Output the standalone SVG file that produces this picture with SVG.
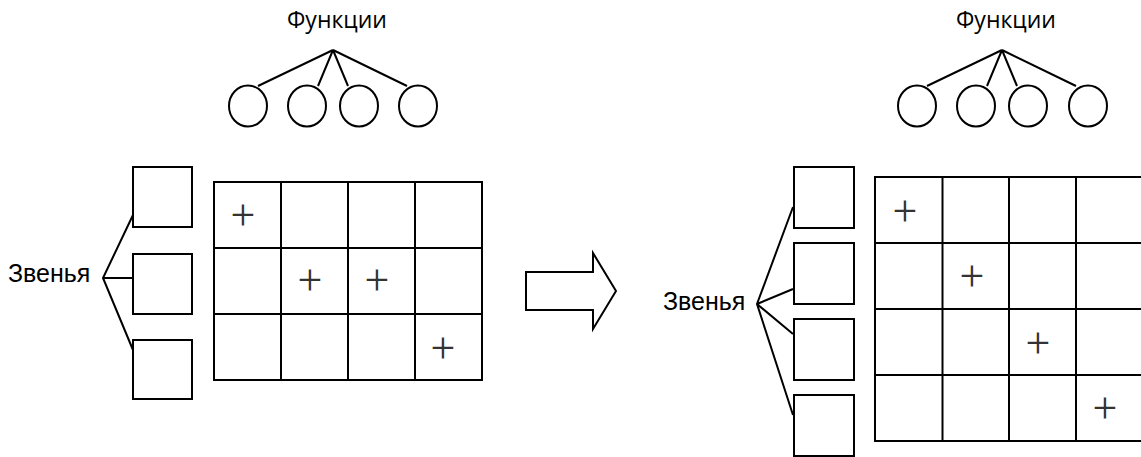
<svg xmlns="http://www.w3.org/2000/svg" width="1141" height="457" viewBox="0 0 1141 457">
<style>
.ln{stroke:#000;stroke-width:2;fill:none}
.box{stroke:#000;stroke-width:2;fill:#fff}
.circ{stroke:#000;stroke-width:2;fill:#fff}
.fn{font-family:"Open Sans","Noto Sans",sans-serif;font-size:23px;fill:#000;text-anchor:middle}
.zv{font-family:"Liberation Sans",Arial,sans-serif;font-size:25px;fill:#000}
.pl{font-family:"Liberation Serif","Times New Roman",serif;font-size:44px;fill:#333;text-anchor:middle}
</style>
<rect width="1141" height="457" fill="#fff"/>
<g id="connectors">
<path class="ln" d="M333,50 L258,86 M333,50 L318,86 M333,50 L348,86 M333,50 L407,86"/>
<path class="ln" d="M1002,50 L927,86 M1002,50 L987,86 M1002,50 L1017,86 M1002,50 L1076,86"/>
<path class="ln" d="M133,215 L103,278 L133,350 M103,278 L133,278"/>
<path class="ln" d="M793,207 L757,304 L793,415 M757,304 L793,289 M757,304 L793,334"/>
</g>
<g id="left-functions">
<text class="fn" x="337" y="28">Функции</text>
<ellipse class="circ" cx="248" cy="106" rx="19" ry="20.5"/>
<ellipse class="circ" cx="307" cy="106" rx="19" ry="20.5"/>
<ellipse class="circ" cx="359" cy="106" rx="19" ry="20.5"/>
<ellipse class="circ" cx="418" cy="106" rx="19" ry="20.5"/>
</g>
<g id="left-links">
<text class="zv" x="8" y="282">Звенья</text>
<rect class="box" x="133" y="167" width="59" height="60"/>
<rect class="box" x="133" y="254" width="59" height="60"/>
<rect class="box" x="133" y="340" width="59" height="59"/>
</g>
<g id="left-grid">
<rect class="ln" x="214" y="182" width="268" height="198"/>
<path class="ln" d="M281,182 V380 M348,182 V380 M415,182 V380 M214,248 H482 M214,314 H482"/>
<text class="pl" x="243" y="230">+</text>
<text class="pl" x="310" y="295">+</text>
<text class="pl" x="377" y="295">+</text>
<text class="pl" x="443" y="363">+</text>
</g>
<g id="arrow">
<polygon class="box" points="526,272 593,272 593,253 616,291 593,329 593,310 526,310"/>
</g>
<g id="right-functions">
<text class="fn" x="1006" y="28">Функции</text>
<ellipse class="circ" cx="917" cy="106" rx="19" ry="20.5"/>
<ellipse class="circ" cx="976" cy="106" rx="19" ry="20.5"/>
<ellipse class="circ" cx="1028" cy="106" rx="19" ry="20.5"/>
<ellipse class="circ" cx="1088" cy="106" rx="19" ry="20.5"/>
</g>
<g id="right-links">
<text class="zv" x="663" y="310">Звенья</text>
<rect class="box" x="794" y="167" width="60" height="61"/>
<rect class="box" x="794" y="243" width="60" height="61"/>
<rect class="box" x="794" y="319" width="60" height="61"/>
<rect class="box" x="794" y="395" width="60" height="61"/>
</g>
<g id="right-grid">
<rect class="ln" x="875" y="177" width="268" height="264"/>
<path class="ln" d="M942.5,177 V441 M1009,177 V441 M1076,177 V441 M875,243 H1143 M875,309 H1143 M875,375 H1143"/>
<text class="pl" x="905" y="226">+</text>
<text class="pl" x="972" y="291">+</text>
<text class="pl" x="1038" y="358">+</text>
<text class="pl" x="1105" y="423">+</text>
</g>
</svg>
